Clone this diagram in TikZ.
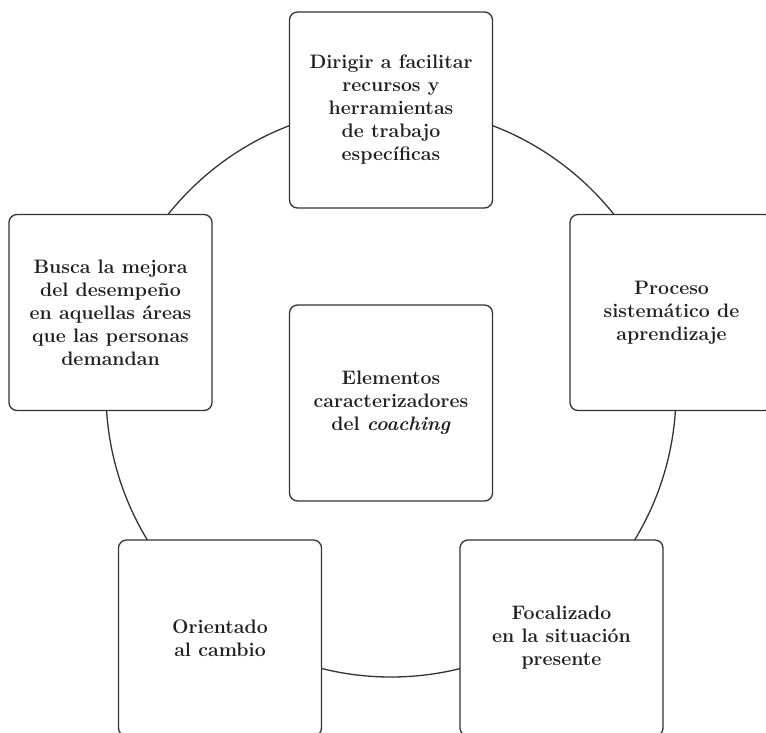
\documentclass[tikz,border=0pt]{standalone}
\usepackage{fontspec}
\begin{document}
\begin{tikzpicture}[x=1pt,y=-1pt,
  card/.style={draw=linecol, line width=1.3pt, fill=white, rounded corners=8pt,
    minimum width=203pt, minimum height=196pt, inner sep=0pt, align=center,
    font=\fontsize{19.5}{23}\selectfont\bfseries, text=textcol},
  ring/.style={draw=linecol, line width=1.3pt}]
\definecolor{linecol}{HTML}{333333}
\definecolor{textcol}{HTML}{231F20}
\useasboundingbox (0,0) rectangle (766,732);
\coordinate (c) at (391,392);
\draw[ring] (c) circle[radius=285];
\node[card] (top) at (391,110) {Dirigir a facilitar\\recursos y\\herramientas\\de trabajo\\específicas};
\node[card] (right) at (671.5,312.5) {Proceso\\sistemático de\\aprendizaje};
\node[card] (left) at (110.5,312.5) {Busca la mejora\\del desempeño\\en aquellas áreas\\que las personas\\demandan};
\node[card] (center) at (391,403) {Elementos\\caracterizadores\\del \textit{coaching}};
\node[card] (bl) at (220,638) {Orientado\\al cambio};
\node[card] (br) at (561.5,638) {Focalizado\\en la situación\\presente};
\end{tikzpicture}
\end{document}
